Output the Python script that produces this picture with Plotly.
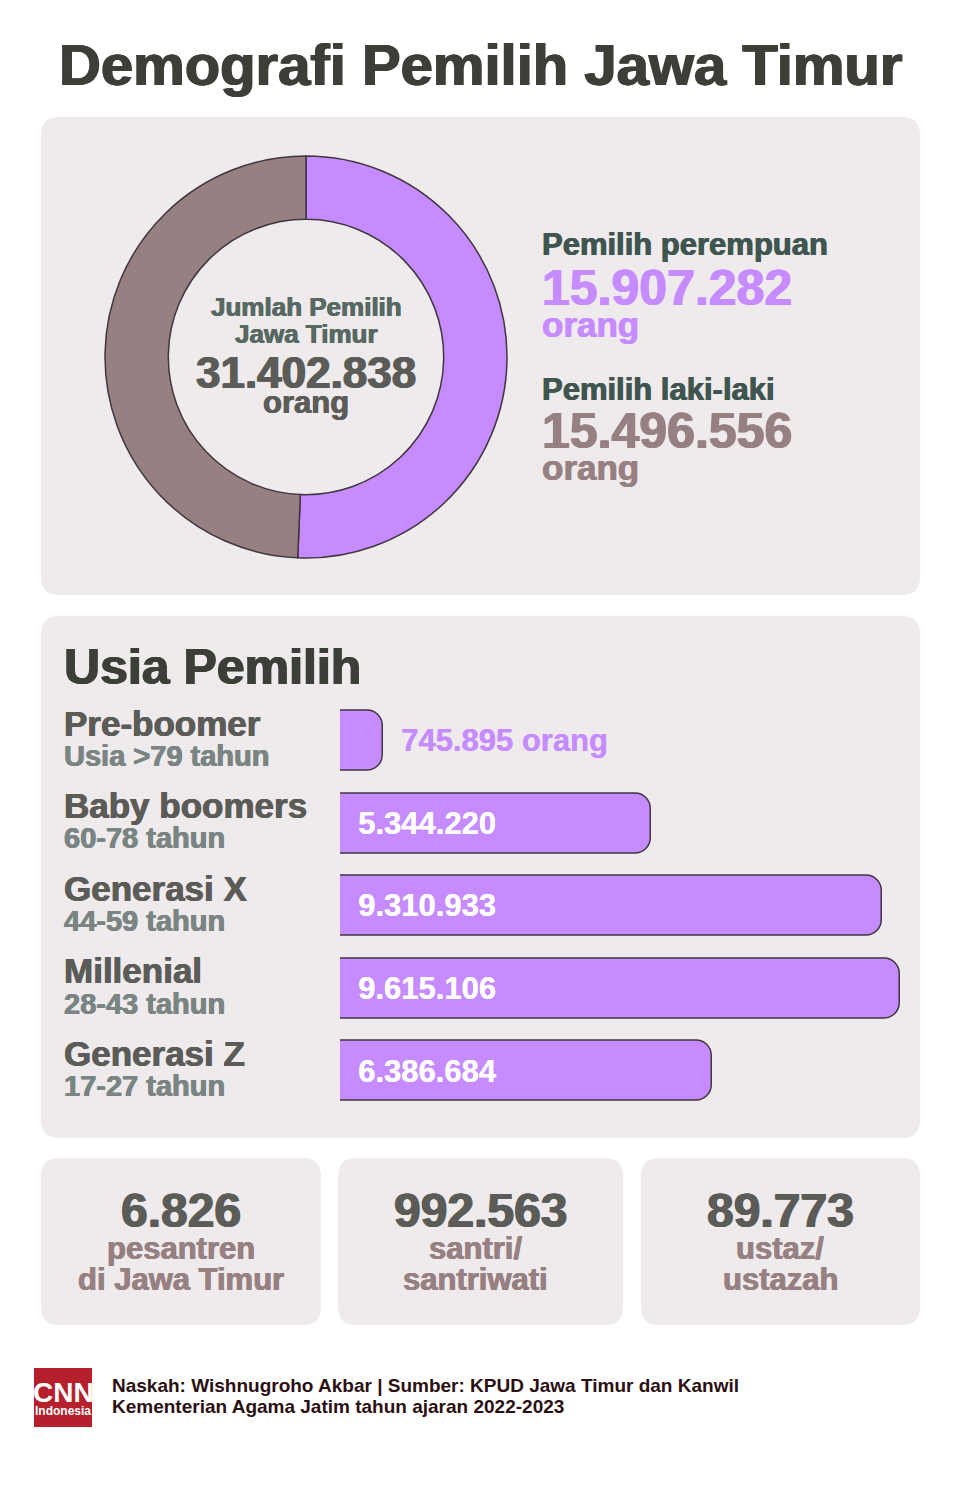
import plotly.graph_objects as go

W, H = 961, 1499
FONT = "Liberation Sans"

# ---- data ----
gender_labels = ["Pemilih perempuan", "Pemilih laki-laki"]
gender_values = [15907282, 15496556]
gender_text = ["15.907.282", "15.496.556"]
total_text = "31.402.838"
age_groups = ["Pre-boomer", "Baby boomers", "Generasi X", "Millenial", "Generasi Z"]
age_ranges = ["Usia >79 tahun", "60-78 tahun", "44-59 tahun", "28-43 tahun", "17-27 tahun"]
age_values = [745895, 5344220, 9310933, 9615106, 6386684]
age_text = ["745.895 orang", "5.344.220", "9.310.933", "9.615.106", "6.386.684"]
stat_values = ["6.826", "992.563", "89.773"]
stat_lines = [["pesantren", "di Jawa Timur"], ["santri/", "santriwati"], ["ustaz/", "ustazah"]]

PURPLE, TAUPE, PANEL, EDGE = "#c58bff", "#978082", "#efebec", "#40363f"
DARK, GREY, GREEN, SAGE = "#3b3f38", "#5b5b58", "#3f5650", "#7a8583"


def px(x):
    return x / W


def py(y):
    return 1 - y / H


def rounded(x0, y0, x1, y1, r, fill):
    a, b, c, d = px(x0), px(x1), py(y0), py(y1)
    rx, ry = r / W, r / H
    path = (f"M {a+rx} {c} L {b-rx} {c} Q {b} {c} {b} {c-ry} L {b} {d+ry} Q {b} {d} {b-rx} {d} "
            f"L {a+rx} {d} Q {a} {d} {a} {d+ry} L {a} {c-ry} Q {a} {c} {a+rx} {c} Z")
    return dict(type="path", path=path, xref="paper", yref="paper", fillcolor=fill,
                line=dict(width=0), layer="below")


def label(x, y, text, size, color, anchor="left", thick=0.5):
    shadow = f"{thick}px 0 0 {color}, -{thick}px 0 0 {color}" if thick else "none"
    return dict(text=text, x=px(x), y=py(y), xref="paper", yref="paper", xanchor=anchor,
                yanchor="middle", showarrow=False,
                font=dict(family=FONT, size=size, color=color, weight=700, shadow=shadow))


fig = go.Figure()
fig.add_trace(go.Pie(
    values=gender_values, labels=gender_labels, hole=0.685, sort=False, direction="clockwise",
    rotation=0, textinfo="none", showlegend=False,
    marker=dict(colors=[PURPLE, TAUPE], line=dict(color=EDGE, width=1.5)),
    domain=dict(x=[px(105), px(507)], y=[py(558), py(156)]),
))
fig.add_trace(go.Bar(
    x=age_values, y=age_groups, orientation="h", width=0.727, showlegend=False,
    marker=dict(color=PURPLE, cornerradius=16, line=dict(color=EDGE, width=1.5)),
    xaxis="x", yaxis="y",
))

shapes = [
    rounded(41, 117, 920, 595, 18, PANEL),
    rounded(41, 616, 920, 1138, 18, PANEL),
    rounded(41, 1158, 321, 1325, 18, PANEL),
    rounded(338, 1158, 623, 1325, 18, PANEL),
    rounded(641, 1158, 920, 1325, 18, PANEL),
    dict(type="rect", xref="paper", yref="paper", x0=px(34), x1=px(92), y0=py(1427), y1=py(1368),
         fillcolor="#b5202c", line=dict(width=0), layer="below"),
]

ann = [
    label(481, 65, "Demografi Pemilih Jawa Timur", 58, DARK, "center", 0.8),
    label(306, 307, "Jumlah Pemilih", 26, "#586963", "center"),
    label(306, 334, "Jawa Timur", 26, "#586963", "center"),
    label(306, 372, total_text, 44, GREY, "center", 0.8),
    label(306, 403, "orang", 31, GREY, "center"),
    label(540, 245, gender_labels[0], 31, GREEN),
    label(540, 288, gender_text[0], 50, PURPLE, thick=0.8),
    label(540, 325, "orang", 35, PURPLE),
    label(540, 389, gender_labels[1], 31, GREEN),
    label(540, 431, gender_text[1], 50, TAUPE, thick=0.8),
    label(540, 467, "orang", 35, TAUPE),
    label(62, 667, "Usia Pemilih", 50, DARK, thick=0.8),
    label(110, 1385, "Naskah: Wishnugroho Akbar | Sumber: KPUD Jawa Timur dan Kanwil", 19, "#2b0f12", thick=0),
    label(110, 1406, "Kementerian Agama Jatim tahun ajaran 2022-2023", 19, "#2b0f12", thick=0),
    label(63, 1392, "CNN", 28, "#ffffff", "center", 0),
    label(63, 1411, "Indonesia", 12, "#ffffff", "center", 0),
]
for i, g in enumerate(age_groups):
    cy = 741 + i * 82.5
    ann.append(label(62, cy - 18, g, 35, GREY))
    ann.append(label(62, cy + 15, age_ranges[i], 29, SAGE))
    inside = i > 0
    ann.append(dict(text=age_text[i], x=0 if inside else age_values[i], y=g, xref="x", yref="y",
                    xanchor="left", yanchor="middle", xshift=16, showarrow=False,
                    font=dict(family=FONT, size=31, weight=700,
                              color="#ffffff" if inside else PURPLE,
                              shadow=f"0.4px 0 0 {'#ffffff' if inside else PURPLE}")))
cards = [(181, 181), (481, 475), (780, 780)]
for (cv, cl), v, lines in zip(cards, stat_values, stat_lines):
    ann.append(label(cv, 1210, v, 48, GREY, "center", 0.8))
    ann.append(label(cl, 1248, lines[0], 31, TAUPE, "center"))
    ann.append(label(cl, 1279, lines[1], 31, TAUPE, "center"))

fig.update_layout(
    width=W, height=H, margin=dict(l=0, r=0, t=0, b=0), paper_bgcolor="white", plot_bgcolor="rgba(0,0,0,0)",
    shapes=shapes, annotations=ann, showlegend=False, bargap=0,
    xaxis=dict(domain=[px(340), px(900)], range=[0, max(age_values)], visible=False, fixedrange=True),
    yaxis=dict(domain=[py(1112.25), py(699.75)], categoryorder="array", categoryarray=age_groups[::-1],
               visible=False, fixedrange=True),
    font=dict(family=FONT),
)
fig.write_html("out.html", config=dict(displayModeBar=False),
               post_script="document.body.style.margin='0';document.body.style.overflow='hidden';")
